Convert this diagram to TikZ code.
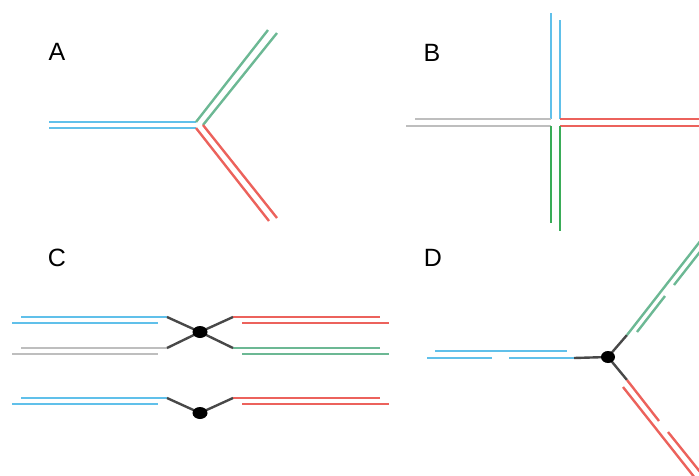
\documentclass[tikz,border=0pt]{standalone}
\usepackage{fontspec}
\setmainfont{Liberation Sans}
\usetikzlibrary{shapes.geometric}

\definecolor{dnablue}{RGB}{96,192,234}
\definecolor{dnared}{RGB}{236,98,92}
\definecolor{dnagreen}{RGB}{108,184,148}
\definecolor{dnaleaf}{RGB}{58,172,88}
\definecolor{dnagray}{RGB}{190,190,190}
\definecolor{linkgray}{RGB}{72,72,72}

\begin{document}
\begin{tikzpicture}[x=1pt,y=-1pt,
    strand/.style={line width=2.4pt},
    link/.style={line width=2.4pt,draw=linkgray},
    hub/.style={ellipse,fill=black,inner sep=0pt,minimum width=15pt,minimum height=12pt},
    panel/.style={font=\fontsize{25}{25}\selectfont,inner sep=0pt}]
\useasboundingbox (0,0) rectangle (699,475);
\clip (0,0) rectangle (699,475);

% A: three-way fork
\node[panel] (labA) at (57,52) {A};
\coordinate (aTop) at (196,122);
\coordinate (aBot) at (196,128);
\coordinate (aIn) at (203,125);
\draw[strand,dnablue] (49,122) -- (aTop);
\draw[strand,dnablue] (49,128) -- (aBot);
\draw[strand,dnagreen] (aTop) -- (268,30);
\draw[strand,dnagreen] (aIn) -- (277,33);
\draw[strand,dnared] (aBot) -- (269,221);
\draw[strand,dnared] (aIn) -- (277,218);

% B: four-way junction
\node[panel] (labB) at (432,53) {B};
\coordinate (bNW) at (551,119);
\coordinate (bNE) at (560,119);
\coordinate (bSW) at (551,126);
\coordinate (bSE) at (560,126);
\draw[strand,dnablue] (551,13) -- (bNW);
\draw[strand,dnablue] (560,20) -- (bNE);
\draw[strand,dnagray] (415,119) -- (bNW);
\draw[strand,dnagray] (406,126) -- (bSW);
\draw[strand,dnared] (bNE) -- (705,119);
\draw[strand,dnared] (bSE) -- (705,126);
\draw[strand,dnaleaf] (bSW) -- (551,223);
\draw[strand,dnaleaf] (bSE) -- (560,231);

% C: strands held by a protein
\node[panel] (labC) at (57,258) {C};
% upper pair
\coordinate (cTop) at (200,332);
\coordinate (c1) at (167,317);
\coordinate (c2) at (167,348);
\coordinate (c3) at (233,317);
\coordinate (c4) at (233,348);
\draw[strand,dnablue] (21,317) -- (c1);
\draw[strand,dnablue] (12,323) -- (158,323);
\draw[strand,dnagray] (21,348) -- (c2);
\draw[strand,dnagray] (12,354) -- (158,354);
\draw[strand,dnared] (c3) -- (380,317);
\draw[strand,dnared] (242,323) -- (389,323);
\draw[strand,dnagreen] (c4) -- (380,348);
\draw[strand,dnagreen] (242,354) -- (389,354);
\draw[link] (c1) -- (cTop) -- (c4);
\draw[link] (c2) -- (cTop) -- (c3);
\node[hub] (cTopHub) at (cTop) {};
% lower pair
\coordinate (cBot) at (200,413);
\coordinate (c5) at (167,398);
\coordinate (c6) at (233,398);
\draw[strand,dnablue] (21,398) -- (c5);
\draw[strand,dnablue] (12,404) -- (158,404);
\draw[strand,dnared] (c6) -- (380,398);
\draw[strand,dnared] (242,404) -- (389,404);
\draw[link] (c5) -- (cBot) -- (c6);
\node[hub] (cBotHub) at (cBot) {};

% D: nicked arms around a hub
\node[panel] (labD) at (433,258) {D};
\coordinate (dC) at (608,357);
\coordinate (dW) at (574,358);
\coordinate (dN) at (627,335);
\coordinate (dS) at (627,380);
\draw[link] (dW) -- (dC);
\draw[link] (dC) -- (dN);
\draw[link] (dC) -- (dS);
\node[hub,minimum width=14pt] (dHub) at (dC) {};
\draw[strand,dnablue] (435,351) -- (567,351);
\draw[strand,dnablue] (427,358) -- (492,358);
\draw[strand,dnablue] (509,358) -- (dW);
\draw[strand,dnagreen] (dN) -- (705,235);
\draw[strand,dnagreen] (637,332) -- (665,296);
\draw[strand,dnagreen] (674,285) -- (710,239);
\draw[strand,dnared] (dS) -- (659,421);
\draw[strand,dnared] (668,432) -- (705,478);
\draw[strand,dnared] (623,387) -- (695,478);
\end{tikzpicture}
\end{document}
